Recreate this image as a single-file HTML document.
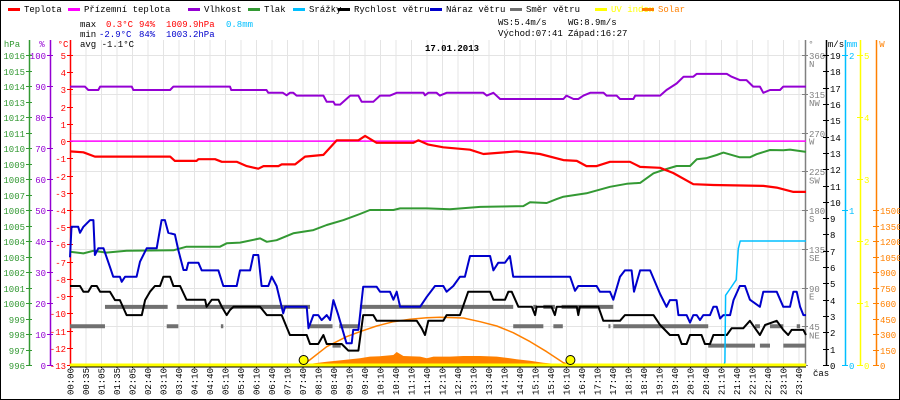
<!DOCTYPE html>
<html><head><meta charset="utf-8"><style>
html,body{margin:0;padding:0;background:#fff}
#wrap{position:relative;width:900px;height:400px;overflow:hidden}
svg{position:absolute;left:0;top:0}
text{font-family:"Liberation Mono",monospace;font-size:9px}
</style></head><body>
<div id="wrap">
<svg id="chart" width="900" height="400" viewBox="0 0 900 400"></svg>
</div>
<script>
// ---- data (hours, values) ----
const tickLabels = ["00:00","00:35","01:05","01:35","02:05","02:40","03:10","03:40","04:10","04:40","05:10","05:40","06:10","06:40","07:10","07:40","08:10","08:40","09:10","09:40","10:10","10:40","11:10","11:40","12:10","12:40","13:10","13:40","14:10","14:40","15:10","15:40","16:10","16:40","17:10","17:40","18:10","18:40","19:10","19:40","20:10","20:40","21:10","21:40","22:10","22:40","23:10","23:40"];
const tempH = [0,0.44,0.82,3.29,3.45,4.16,4.22,4.77,4.99,5.48,5.81,6.19,6.36,6.85,6.96,7.40,7.73,8.33,8.77,9.48,9.70,10.08,11.29,11.45,11.78,12.27,13.15,13.59,14.68,15.45,16.22,16.66,16.98,17.31,17.75,18.41,18.74,19.4,19.83,20.49,21.15,22.79,23.23,23.78,24.2];
const tempV = [-0.6,-0.65,-0.9,-0.9,-1.15,-1.15,-1.05,-1.05,-1.2,-1.2,-1.45,-1.6,-1.45,-1.45,-1.35,-1.35,-0.9,-0.8,0.05,0.05,0.3,-0.1,-0.1,0.05,-0.2,-0.36,-0.5,-0.75,-0.6,-0.75,-1.1,-1.15,-1.45,-1.45,-1.2,-1.2,-1.5,-1.55,-1.85,-2.5,-2.55,-2.6,-2.7,-2.95,-2.95];
const dewH = [0,24.2];
const dewV = [0,0];
const humH = [0,0.49,0.6,0.93,0.99,2.03,2.08,3.29,3.4,5.26,5.3,6.46,6.52,7.0,7.12,7.23,7.34,7.45,8.33,8.44,8.66,8.71,8.88,9.21,9.48,9.59,9.97,10.19,10.52,10.74,11.62,11.67,11.78,12.05,12.16,12.38,12.99,13.59,13.7,13.92,14.14,16.22,16.32,16.55,16.71,16.88,17.1,17.54,17.64,17.97,18.08,18.52,18.58,19.4,19.61,19.94,20.17,20.49,20.6,21.59,21.75,22.02,22.24,22.46,22.68,22.79,23.01,23.34,23.45,24.2];
const humV = [89.8,89.8,88.7,88.7,89.8,89.8,88.7,88.7,89.8,89.8,88.7,88.7,87.8,87.8,87.0,87.8,87.8,86.9,86.9,84.9,84.9,84.0,84.0,86.9,86.9,84.9,84.9,86.9,86.9,87.8,87.8,87.0,87.8,87.8,86.9,87.8,87.8,87.8,86.9,87.8,85.8,85.8,86.9,85.8,85.8,86.9,87.8,87.8,86.9,86.9,85.8,85.8,86.9,86.9,88.7,90.8,93.0,93.0,93.9,93.9,93.0,91.9,91.9,89.8,89.8,87.8,88.7,88.7,89.8,89.8];
const presH = [0,0.44,0.77,1.19,1.86,3.4,3.83,4.93,5.15,5.59,6.25,6.47,6.79,7.34,8.0,8.44,8.99,9.53,9.86,10.63,10.85,11.73,12.49,13.48,14.9,15.12,15.67,16.0,16.22,16.98,17.75,18.3,18.74,19.18,19.5,19.94,20.38,20.6,20.93,21.26,21.48,22.02,22.35,22.57,23.01,23.45,23.67,24.2];
const presV = [1003.31,1003.2,1003.37,1003.25,1003.37,1003.4,1003.63,1003.63,1003.85,1003.9,1004.17,1003.95,1004.05,1004.5,1004.7,1005.03,1005.35,1005.74,1006.0,1006.0,1006.1,1006.1,1006.05,1006.2,1006.25,1006.5,1006.45,1006.7,1006.86,1007.08,1007.5,1007.69,1007.75,1008.37,1008.58,1008.84,1008.84,1009.27,1009.35,1009.55,1009.7,1009.4,1009.4,1009.6,1009.87,1009.85,1009.9,1009.75];
const rainH = [0,21.50,21.53,21.55,21.73,21.9,21.97,22.03,24.2];
const rainV = [0,0,0.02,0.45,0.5,0.55,0.75,0.8,0.8];
const windH = [0,0.33,0.44,0.6,0.71,0.88,0.99,1.31,1.48,1.64,1.86,2.36,2.47,2.63,2.79,2.96,3.07,3.29,3.4,3.62,3.83,4.44,4.49,4.66,4.88,4.99,5.15,5.26,5.37,6.25,6.47,6.96,7.23,7.78,7.89,8.16,8.33,8.44,8.93,9.15,9.48,9.64,9.97,10.08,11.4,11.56,11.67,11.78,12.27,12.38,12.82,13.09,13.81,13.92,14.3,14.41,14.52,14.74,15.18,15.29,15.34,15.83,15.94,16.0,16.66,16.71,16.76,17.37,17.53,18.08,18.24,19.18,19.4,19.72,20.0,20.11,20.27,20.38,20.76,20.87,21.04,21.15,21.59,21.75,22.13,22.35,22.52,22.68,22.85,23.23,23.45,23.61,23.72,24.11,24.2];
const windV = [4.84,4.84,4.49,4.49,4.84,4.84,4.49,4.49,3.98,3.98,3.06,3.06,3.98,4.49,4.84,4.84,5.41,5.41,4.84,4.84,4.0,4.0,3.57,4.0,4.0,3.57,3.06,3.37,3.57,3.57,3.06,3.06,1.84,1.84,1.29,1.29,1.84,1.29,1.29,0.88,0.88,3.06,3.06,2.71,2.71,2.25,1.84,2.71,2.71,3.06,3.06,4.49,4.49,4.0,4.0,4.49,4.49,3.57,3.57,3.06,3.57,3.57,3.06,3.57,3.57,3.06,3.57,3.57,2.71,2.71,3.06,3.06,2.45,1.84,1.84,1.29,1.29,1.84,1.84,1.29,1.29,1.84,1.84,2.25,2.25,2.71,2.25,1.84,2.45,2.71,2.15,1.84,2.15,2.15,1.84];
const gustH = [0,0.05,0.27,0.33,0.44,0.66,0.77,0.82,0.93,1.1,1.31,1.42,1.64,1.7,1.81,2.19,2.3,2.52,2.85,3.01,3.12,3.23,3.45,3.56,3.73,3.83,3.89,4.22,4.33,4.88,5.04,5.48,5.59,5.92,6.03,6.19,6.3,6.52,6.63,6.79,7.01,7.07,7.78,7.84,8.0,8.16,8.27,8.44,8.55,8.66,8.82,9.09,9.26,9.31,9.48,9.64,10.08,10.19,10.52,10.63,10.74,10.85,11.51,11.73,12.0,12.27,12.38,12.6,12.82,12.98,13.15,13.81,13.92,14.08,14.3,14.46,14.57,16.44,16.6,16.71,17.31,17.42,17.75,17.86,18.08,18.24,18.46,18.54,18.74,19.07,19.4,19.61,19.72,19.94,20.0,20.27,20.38,20.49,20.6,20.71,20.82,21.04,21.15,21.26,21.37,21.48,21.7,21.81,22.02,22.19,22.35,22.68,22.79,23.23,23.45,23.67,23.78,23.89,24.0,24.11,24.2];
const gustV = [6.6,8.47,8.47,8.1,8.47,8.88,8.88,6.74,7.15,7.15,6.02,5.41,5.41,5.1,5.41,5.41,6.33,7.15,7.15,8.88,8.88,8.1,8.0,7.05,5.82,5.82,6.27,6.27,5.8,5.8,4.84,4.84,5.8,5.8,6.74,6.74,4.84,4.84,5.41,4.84,3.17,3.57,3.57,2.25,3.06,3.06,2.75,3.06,2.75,3.98,3.06,1.33,1.33,2.15,2.15,4.8,4.8,4.49,4.49,4.0,4.49,3.57,3.57,4.18,4.84,4.84,4.49,4.84,5.41,5.41,6.68,6.68,5.8,6.27,6.27,6.68,5.41,5.41,4.55,4.84,4.84,4.49,4.49,4.0,5.41,5.8,5.8,4.49,5.8,5.8,4.35,3.57,3.98,3.98,3.06,3.06,2.6,3.06,3.06,2.75,3.06,3.06,3.57,3.57,2.85,3.06,3.06,3.98,4.84,4.84,4.0,3.57,4.49,4.49,3.57,3.57,4.49,4.49,3.57,3.06,3.06];
const dirStart = [0,3.18,4.96,7.89,8.85,14.57,15.89,17.7,17.86,22.52,23.01,23.89,1.15,3.51,9.53,15.23,15.56,16.16,8.63,20.98,22.68,23.45];
const dirEnd   = [1.15,3.56,5.04,8.63,9.48,15.56,16.2,17.75,20.98,22.68,23.45,24.0,3.21,7.89,14.57,15.34,15.94,17.86,8.9,22.52,23.01,24.2];
const dirVal   = [45,45,45,45,45,45,45,45,45,45,45,45,67.5,67.5,67.5,67.5,67.5,67.5,22.5,22.5,22.5,22.5];
const solMaxH = [7.67,8.44,9.09,9.53,10.08,10.63,11.18,11.73,12.16,12.93,13.48,14.03,14.57,15.12,15.67,16.22,16.44];
const solMaxV = [0,177,274,322,377,419,443,458,462,455,419,377,313,226,129,22,0];
const solH = [7.62,8.0,8.44,8.99,9.53,9.86,10.19,10.63,10.74,10.96,11.51,11.73,11.95,12.16,12.49,12.93,13.48,14.03,14.46,14.68,15.12,15.56,16.0,16.22];
const solV = [0,15,32,48,65,81,85,97,126,87,81,65,81,81,81,87,87,81,65,55,42,22,10,0];
const sunH = [7.68,16.45];
const hpaTicks = [996,997,998,999,1000,1001,1002,1003,1004,1005,1006,1007,1008,1009,1010,1011,1012,1013,1014,1015,1016];
const humTicks = [0,10,20,30,40,50,60,70,80,90,100];
const tempTicks = [-13,-12,-11,-10,-9,-8,-7,-6,-5,-4,-3,-2,-1,0,1,2,3,4,5];
const dirTicks = [0,45,90,135,180,225,270,315,360];
const dirNames = ["","NE","E","SE","S","SW","W","NW","N"];
const msTicks = [0,1,2,3,4,5,6,7,8,9,10,11,12,13,14,15,16,17,18,19];
const mmTicks = [0,1,2];
const uvTicks = [0,1,2,3,4,5];
const wTicks = [0,150,300,450,600,750,900,1050,1200,1350,1500];

// ---- scales ----
const X0=70, XR=806, YT=55, YB=365;
const xH = h => Math.min(XR, X0 + h*30.42);
const yT = t => YB - (t+13)*(YB-YT)/18;
const yHum = v => YB - v*(YB-YT)/100;
const yP = p => YB - (p-996)*(YB-YT)/20;
const yDir = d => YB - d*(YB-YT)/360;
const yMs = v => YB - v*(YB-YT)/19;
const yMm = v => YB - v*(YB-YT)/2;
const yUv = v => YB - v*(YB-YT)/5;
const yW = v => YB - v*(YB-210)/1500;

const NS="http://www.w3.org/2000/svg";
const svg=document.getElementById('chart');
function mk(tag,attrs,parent){const e=document.createElementNS(NS,tag);for(const k in attrs)e.setAttribute(k,attrs[k]);(parent||svg).appendChild(e);return e;}
function txt(x,y,s,fill,anchor,weight,size){const t=mk('text',{x:x,y:y,fill:fill||'#000','text-anchor':anchor||'start'});if(weight)t.setAttribute('font-weight',weight);if(size)t.setAttribute('font-size',size);t.textContent=s;return t;}

// frame
let fr=mk('rect',{x:0.5,y:0.5,width:899,height:399,fill:'none',stroke:'#000'});



// grid
const grid=mk('g',{});


tickLabels.forEach((l,i)=>{const x=X0+i*15.5+0.5;mk('line',{x1:x,y1:40,x2:x,y2:YB,stroke:'#e4e4e4'},grid);});
dirTicks.forEach(d=>{if(d===0)return;const y=Math.round(yDir(d))+0.5;mk('line',{x1:X0,y1:y,x2:XR,y2:y,stroke:'#e4e4e4'},grid);});

// legend
const legNames=["Teplota","Přízemní teplota","Vlhkost","Tlak","Srážky","Rychlost větru","Náraz větru","Směr větru","UV index","Solar"];
const legColors=["#ff0000","#ff00ff","#9400d3","#339933","#00bfff","#000000","#0000cc","#707070","#ffff00","#ff8000"];
const legX=[8,68,188,248,293,338,430,510,595,642];
const leg=mk('g',{});


legNames.forEach((n,i)=>{
  const g=mk('g',{},leg);
  
  
  mk('rect',{x:legX[i],y:8,width:12,height:3,fill:legColors[i]},g);
  const t=txt(legX[i]+16,12,n,(i>=8)?legColors[i]:'#000');
  g.appendChild(t);
});

// stats
const st=mk('g',{});


[[80,27,'max','#000'],[106,27,'0.3°C','#ff0000'],[139,27,'94%','#ff0000'],[166,27,'1009.9hPa','#ff0000'],[226,27,'0.8mm','#00bfff'],
 [80,37,'min','#000'],[99,37,'-2.9°C','#0000cc'],[139,37,'84%','#0000cc'],[166,37,'1003.2hPa','#0000cc'],
 [80,47,'avg -1.1°C','#000'],[498,25,'WS:5.4m/s','#000'],[568,25,'WG:8.9m/s','#000'],[498,36,'Východ:07:41','#000'],[568,36,'Západ:16:27','#000']]
 .forEach(a=>st.appendChild(txt(a[0],a[1],a[2],a[3])));
const title=txt(452,51,'17.01.2013','#000','middle','bold','12.5px');



// axes
function axisV(x,color,ticks,yf,labFn,side,name,unit,ux){
  const g=mk('g',{});
  
  
  mk('line',{x1:x+0.5,y1:40,x2:x+0.5,y2:YB+1,stroke:color,'stroke-width':1.5},g);
  ticks.forEach(v=>{const y=Math.round(yf(v))+0.5;mk('line',{x1:x-3,y1:y,x2:x+3,y2:y,stroke:color},g);
    const l=labFn(v); if(l!==null){g.appendChild(txt(side<0?x-4:x+4,y+3.5,l,color,side<0?'end':'start'));}});
  if(unit)g.appendChild(txt(ux,47,unit,color,'middle'));
}
axisV(29,'#339933',hpaTicks,yP,v=>String(v),-1,'pressure-axis','hPa',12);
axisV(50,'#9400d3',humTicks,yHum,v=>String(v),-1,'humidity-axis','%',42);
axisV(70,'#ff0000',tempTicks,yT,v=>String(v),-1,'temperature-axis','°C',63);
axisV(805,'#808080',dirTicks,yDir,v=>v===0?null:String(v),1,'direction-axis','°',811);
dirTicks.forEach((d,i)=>{if(dirNames[i])txt(809,yDir(d)+12,dirNames[i],'#808080');});
axisV(826,'#000',msTicks,yMs,v=>String(v),1,'wind-speed-axis','m/s',836);
axisV(845,'#00bfff',mmTicks,yMm,v=>String(v),1,'rain-axis','mm',852);
axisV(860,'#ffff00',uvTicks,yUv,v=>String(v),1,'uv-axis',null,0);
axisV(876,'#ff8000',wTicks,yW,v=>String(v),1,'solar-axis','W',882);
const cas=txt(813,376,'čas','#000');



// x tick labels
const xl=mk('g',{});


tickLabels.forEach((l,i)=>{const x=X0+i*15.5;mk('line',{x1:x+0.5,y1:YB,x2:x+0.5,y2:YB+3,stroke:'#000'},xl);
  const t=txt(0,0,l,'#000','end');t.setAttribute('transform','translate('+(x+3.5)+',368) rotate(-90)');xl.appendChild(t);});

// series helpers
function line(H,V,yf,color,w,name){const p=H.map((h,i)=>xH(h).toFixed(1)+','+yf(V[i]).toFixed(1)).join(' ');
  const e=mk('polyline',{points:p,fill:'none',stroke:color,'stroke-width':w,'stroke-linejoin':'round'});
  
  return e;}

// solar fill
const sp=solH.map((h,i)=>xH(h).toFixed(1)+','+yW(solV[i]).toFixed(1));
const sf=mk('polygon',{points:xH(solH[0])+','+YB+' '+sp.join(' ')+' '+xH(solH[solH.length-1])+','+YB,fill:'#ff8000'});



// direction bars
const dg=mk('g',{});


dirVal.forEach((d,i)=>{const r=mk('rect',{x:xH(dirStart[i]),y:yDir(d)-2,width:Math.max(2,xH(dirEnd[i])-xH(dirStart[i])),height:4,fill:'#707070'},dg);
  
  });

line(dewH,dewV,yT,'#ff00ff',1.5,'ground-temperature-line');
line(presH,presV,yP,'#339933',2,'pressure-line');
line(humH,humV,yHum,'#9400d3',2,'humidity-line');
line(tempH,tempV,yT,'#ff0000',2.2,'temperature-line');
line(solMaxH,solMaxV,yW,'#ff8000',1.5,'solar-max-line');
line(gustH,gustV,yMs,'#0000cc',2,'wind-gust-line');
line(windH,windV,yMs,'#000000',2,'wind-speed-line');
line(rainH,rainV,yMm,'#00bfff',1.5,'rain-line');

// UV baseline
const uvl=mk('line',{x1:X0,y1:YB,x2:XR,y2:YB,stroke:'#ffff00','stroke-width':3});


mk('line',{x1:X0,y1:YB+2,x2:XR,y2:YB+2,stroke:'#000','stroke-width':1});

// sunrise/sunset markers
sunH.forEach((h,i)=>{const c=mk('circle',{cx:xH(h),cy:360,r:4.5,fill:'#ffff00',stroke:'#000','stroke-width':1});
  
  });
</script>
</body></html>
